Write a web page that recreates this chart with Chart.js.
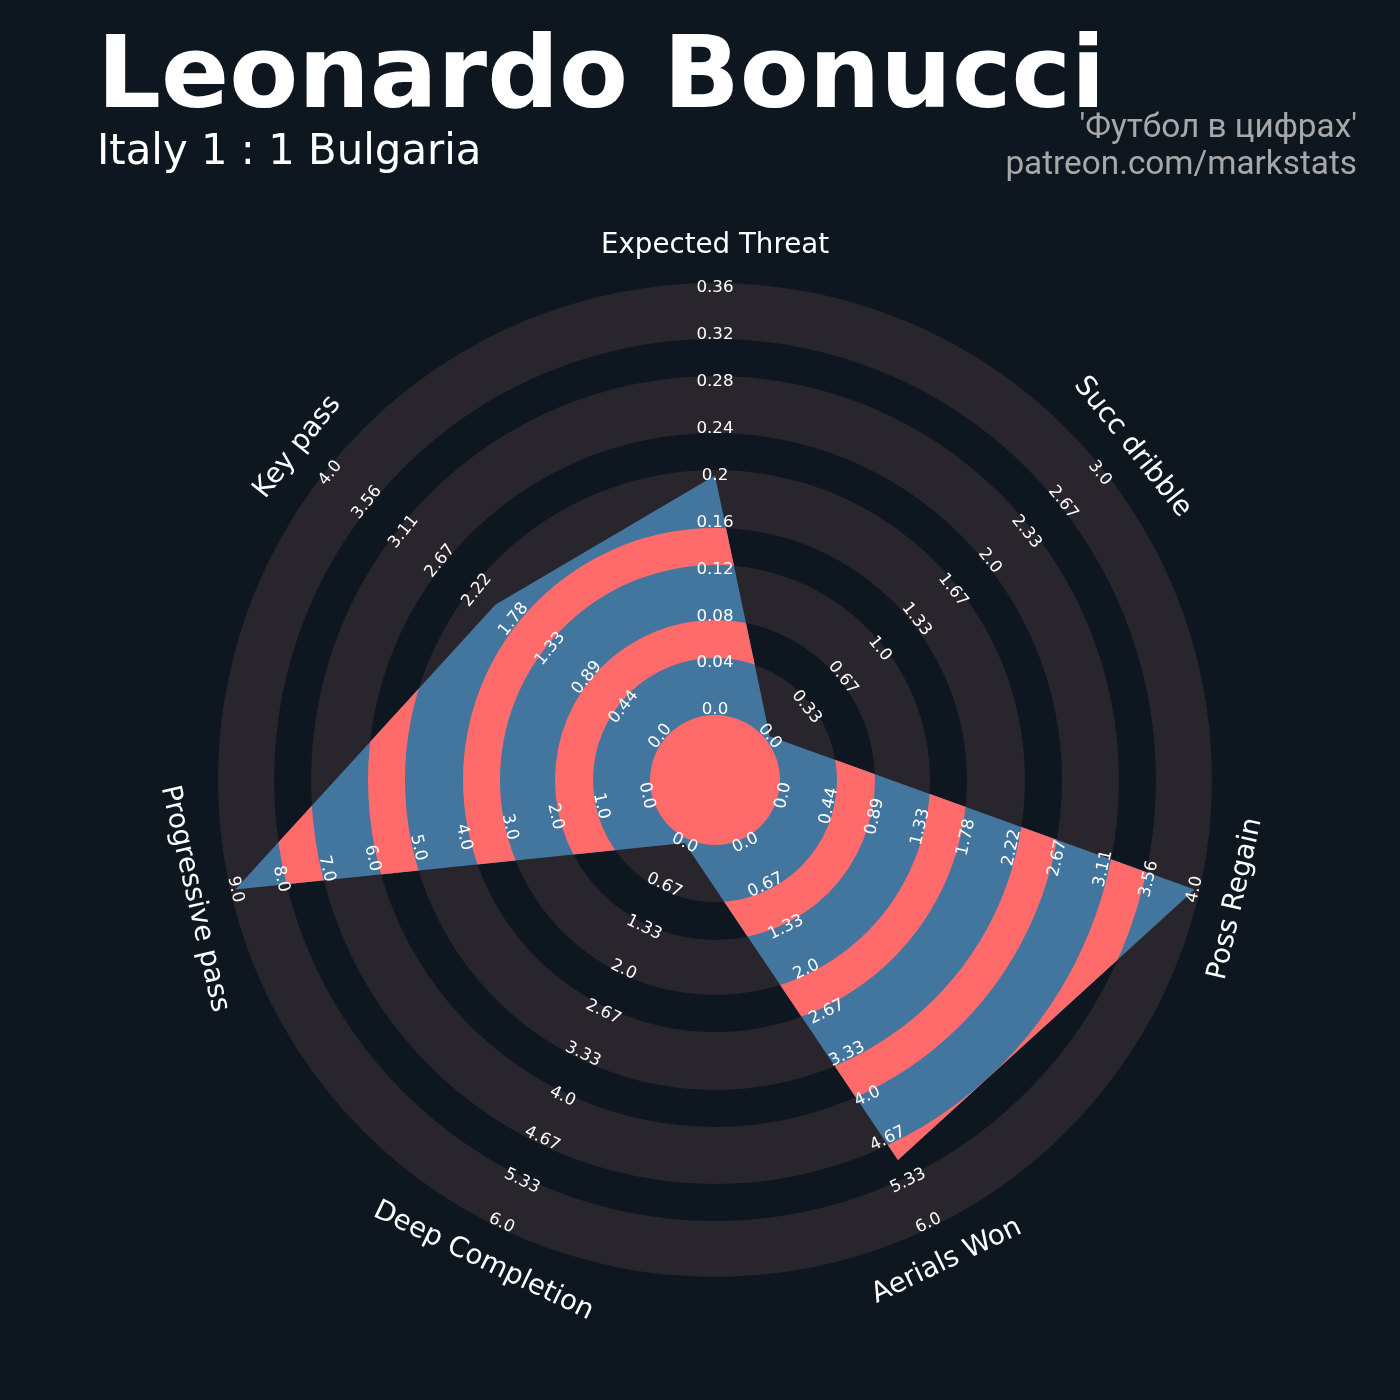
<!DOCTYPE html>
<html>
<head>
<meta charset="utf-8">
<script src="https://cdn.jsdelivr.net/npm/chart.js@4.4.0/dist/chart.umd.min.js"></script>
<style>
  html, body { margin: 0; padding: 0; background: #0e1720; }
  #wrap { width: 1400px; height: 1400px; }
</style>
</head>
<body>
<div id="wrap"><canvas id="radar" width="1400" height="1400"></canvas></div>
<script>
const params = ["Expected Threat", "Succ dribble", "Poss Regain", "Aerials Won", "Deep Completion", "Progressive pass", "Key pass"];
const minRange = [0, 0, 0, 0, 0, 0, 0];
const maxRange = [0.36, 3, 4, 6, 6, 9, 4];
const values = [0.2, 0, 4, 5, 0, 9, 2];
const labelCount = 10;

const bgColor = "#0e1720";
const ringColor = "#28252c";
const polyColor = "#43769f";
const innerColor = "#ff6b6b";

// radial scale units, outer ring = 497
const R_OUTER = 497;
const R_MIN = 70;
const R_MAX = 492;
const CENTER_R = 65;
const outerBands = [[65, 122], [160, 215], [252, 310], [347, 404], [441, 497]];
const innerBands = [[122, 160], [215, 252], [310, 347], [404, 441]];

function toRadius(v, i) {
  return R_MIN + (v - minRange[i]) / (maxRange[i] - minRange[i]) * (R_MAX - R_MIN);
}

function fmt(v) {
  const r = Math.round(v * 100) / 100;
  return Number.isInteger(r) ? r.toFixed(1) : String(r);
}

function annulus(ctx, s, a, b, color) {
  const r1 = s.getDistanceFromCenterForValue(a);
  const r2 = s.getDistanceFromCenterForValue(b);
  ctx.beginPath();
  ctx.arc(s.xCenter, s.yCenter, r2, 0, Math.PI * 2);
  ctx.arc(s.xCenter, s.yCenter, r1, 0, Math.PI * 2, true);
  ctx.fillStyle = color;
  ctx.fill();
}

function textRot(s, i) {
  let rot = s.getIndexAngle(i) % (Math.PI * 2);
  if (rot > Math.PI / 2 && rot < Math.PI * 1.5) rot -= Math.PI;
  return rot;
}

const radarDeco = {
  id: "radarDeco",
  beforeDraw(chart) {
    const ctx = chart.ctx;
    ctx.save();
    ctx.fillStyle = bgColor;
    ctx.fillRect(0, 0, chart.width, chart.height);
    ctx.restore();
  },
  beforeDatasetsDraw(chart) {
    const s = chart.scales.r;
    const ctx = chart.ctx;
    ctx.save();
    outerBands.forEach(([a, b]) => annulus(ctx, s, a, b, ringColor));
    ctx.restore();
  },
  afterDatasetsDraw(chart) {
    const s = chart.scales.r;
    const ctx = chart.ctx;
    const pts = chart.getDatasetMeta(0).data;

    // rings inside the polygon
    ctx.save();
    ctx.beginPath();
    pts.forEach((p, i) => (i ? ctx.lineTo(p.x, p.y) : ctx.moveTo(p.x, p.y)));
    ctx.closePath();
    ctx.clip();
    innerBands.forEach(([a, b]) => annulus(ctx, s, a, b, innerColor));
    ctx.restore();

    ctx.save();
    ctx.beginPath();
    ctx.arc(s.xCenter, s.yCenter, s.getDistanceFromCenterForValue(CENTER_R), 0, Math.PI * 2);
    ctx.fillStyle = innerColor;
    ctx.fill();
    ctx.restore();

    // range labels + parameter names
    ctx.save();
    ctx.fillStyle = "#ffffff";
    ctx.textAlign = "center";
    ctx.textBaseline = "middle";
    params.forEach((p, i) => {
      const rot = textRot(s, i);
      for (let k = 0; k < labelCount; k++) {
        const v = minRange[i] + (maxRange[i] - minRange[i]) * k / (labelCount - 1);
        const pos = s.getPointPosition(i, s.getDistanceFromCenterForValue(toRadius(v, i)));
        ctx.save();
        ctx.translate(pos.x, pos.y);
        ctx.rotate(rot);
        ctx.font = "16.7px 'DejaVu Sans'";
        ctx.fillText(fmt(v), 0, 0);
        ctx.restore();
      }
      const lp = s.getPointPosition(i, s.getDistanceFromCenterForValue(534));
      ctx.save();
      ctx.translate(lp.x, lp.y);
      ctx.rotate(rot);
      ctx.font = "27.7px 'DejaVu Sans'";
      ctx.fillText(p, 0, 0);
      ctx.restore();
    });
    ctx.restore();

    // titles
    ctx.save();
    ctx.fillStyle = "#ffffff";
    ctx.textBaseline = "alphabetic";
    ctx.textAlign = "left";
    ctx.font = "bold 100.5px 'DejaVu Sans'";
    ctx.fillText("Leonardo Bonucci", 97, 107);
    ctx.font = "41.8px 'DejaVu Sans'";
    ctx.fillText("Italy 1 : 1 Bulgaria", 97, 164);
    ctx.textAlign = "right";
    ctx.fillStyle = "#a8a8a8";
    ctx.font = "33.3px Roboto";
    ctx.fillText("'Футбол в цифрах'", 1357, 137);
    ctx.fillText("patreon.com/markstats", 1357, 174);
    ctx.restore();
  }
};

new Chart(document.getElementById("radar"), {
  type: "radar",
  data: {
    labels: params,
    datasets: [{
      data: values.map((v, i) => toRadius(v, i)),
      backgroundColor: polyColor,
      borderWidth: 0,
      pointRadius: 0,
      fill: "origin"
    }]
  },
  options: {
    responsive: false,
    animation: false,
    devicePixelRatio: 1,
    layout: { padding: { left: 218, right: 188, top: 283, bottom: 123 } },
    plugins: { legend: { display: false }, tooltip: { enabled: false } },
    scales: {
      r: {
        min: 0,
        max: R_OUTER,
        ticks: { display: false },
        grid: { display: false },
        angleLines: { display: false },
        pointLabels: { display: false }
      }
    }
  },
  plugins: [radarDeco]
});
</script>
</body>
</html>
